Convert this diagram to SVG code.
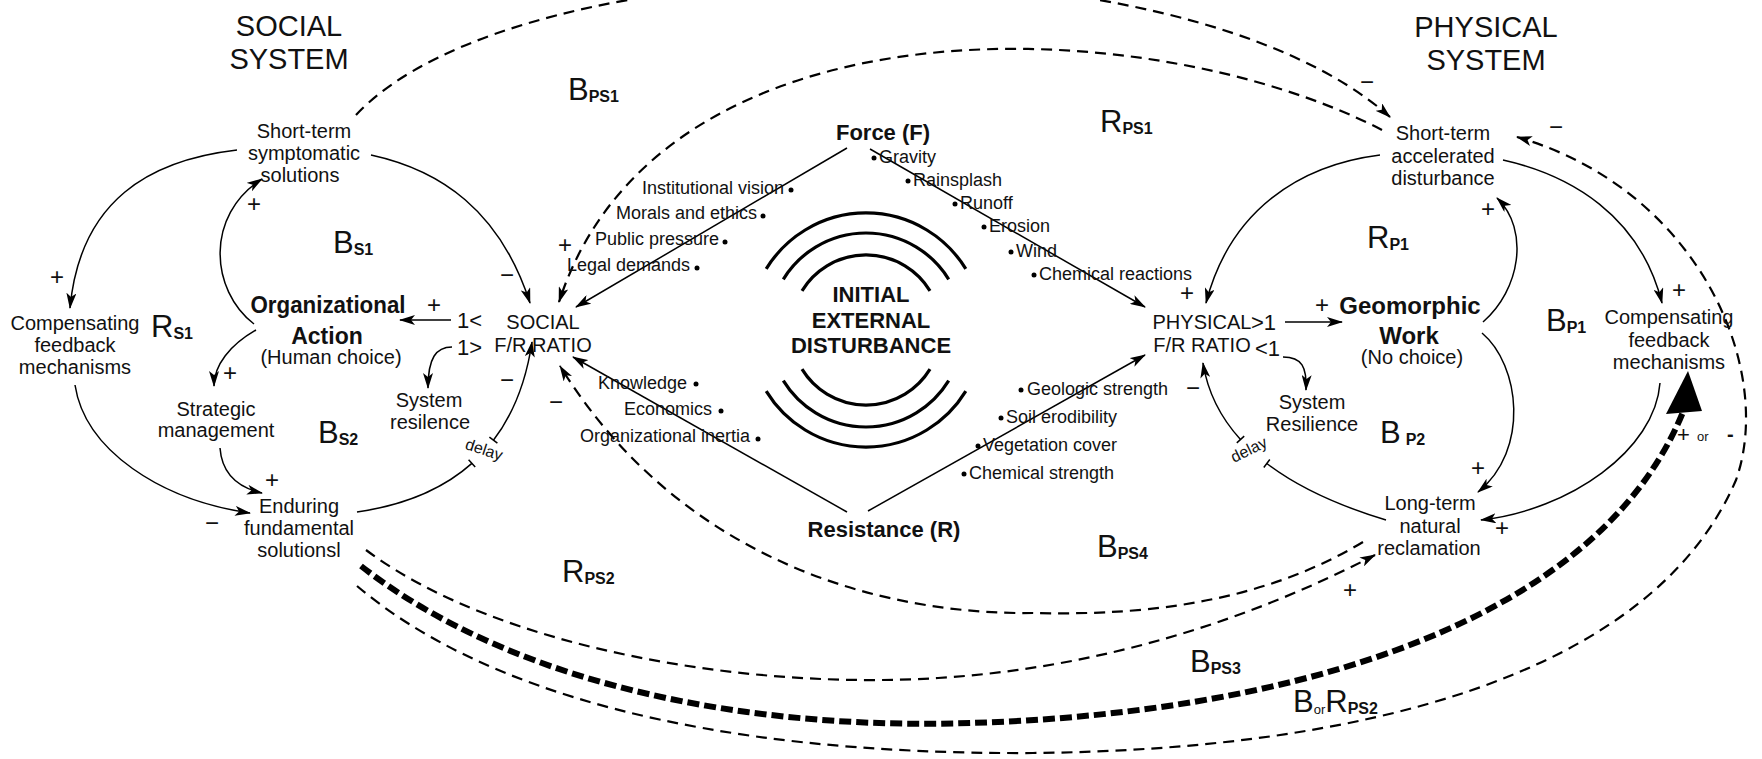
<svg xmlns="http://www.w3.org/2000/svg" width="1762" height="759" viewBox="0 0 1762 759">
<style>
text{font-family:"Liberation Sans",Arial,sans-serif;fill:#111}
.t{font-size:20px;text-anchor:middle}
.h{font-size:29px;text-anchor:middle}
.bd{font-weight:bold;font-size:23px;text-anchor:middle}
.c{font-weight:bold;font-size:22px;text-anchor:middle}
.l{font-size:18px}
.e{text-anchor:end}
.r{font-size:22px}
.loop{font-size:31px}
.sub{font-size:16px;font-weight:bold}
.or{font-size:13px}
.sg{font-size:24px;text-anchor:middle}
.dly{font-size:16px;text-anchor:middle}
.ln{fill:none;stroke:#000;stroke-width:1.5}
.dl{fill:none;stroke:#000;stroke-width:2.2;stroke-dasharray:11 7}
.tk{fill:none;stroke:#000;stroke-width:6;stroke-dasharray:12 5}
.ring{fill:none;stroke:#000;stroke-width:3.2}
.dot{fill:#000}
</style>
<defs>
<marker id="ah" viewBox="0 0 16 10" markerWidth="16" markerHeight="10" refX="15" refY="5" orient="auto" markerUnits="userSpaceOnUse">
<path d="M0,0 L16,5 L0,10 L4,5 z" fill="#000"/>
</marker>
</defs>
<rect width="1762" height="759" fill="#fff"/>

<g id="titles">
<text class="h" x="289" y="36">SOCIAL</text>
<text class="h" x="289" y="69">SYSTEM</text>
<text class="h" x="1486" y="37">PHYSICAL</text>
<text class="h" x="1486" y="70">SYSTEM</text>
</g>

<g id="connectors">
<!-- social solid -->
<path class="ln" d="M237,150 C150,160 80,200 70,308" marker-end="url(#ah)"/>
<path class="ln" d="M371,155 C440,170 500,210 530,303" marker-end="url(#ah)"/>
<path class="ln" d="M254,324 C210,290 205,215 262,179" marker-end="url(#ah)"/>
<path class="ln" d="M256,330 C230,345 214,365 214,386" marker-end="url(#ah)"/>
<path class="ln" d="M451,320 L400,320" marker-end="url(#ah)"/>
<path class="ln" d="M452,347 C436,347 428,358 428,388" marker-end="url(#ah)"/>
<path class="ln" d="M220,448 C222,475 240,488 262,493" marker-end="url(#ah)"/>
<path class="ln" d="M75,385 C85,450 160,500 250,513" marker-end="url(#ah)"/>
<path class="ln" d="M357,512 Q428.9,501.7 471.9,463.4"/>
<path class="ln" d="M493.4,440.2 Q523.2,401.2 532,342" marker-end="url(#ah)"/>
<path class="ln" d="M468.6,459.7 L475.2,467.1 M489.4,437.2 L497.4,443.2"/>
<!-- physical solid -->
<path class="ln" d="M1380,155 C1300,165 1230,210 1206,303" marker-end="url(#ah)"/>
<path class="ln" d="M1503,160 C1570,175 1640,215 1662,303" marker-end="url(#ah)"/>
<path class="ln" d="M1483,322 C1520,290 1530,230 1497,198" marker-end="url(#ah)"/>
<path class="ln" d="M1482,333 C1520,365 1530,450 1478,492" marker-end="url(#ah)"/>
<path class="ln" d="M1285,322 L1342,322" marker-end="url(#ah)"/>
<path class="ln" d="M1283,357 C1302,357 1307,367 1306,390" marker-end="url(#ah)"/>
<path class="ln" d="M1660,383 C1655,450 1570,510 1481,520" marker-end="url(#ah)"/>
<path class="ln" d="M1386,520 Q1311.3,497.5 1266.8,463.5"/>
<path class="ln" d="M1240.5,439.5 Q1209.8,405.8 1203,363" marker-end="url(#ah)"/>
<path class="ln" d="M1263.8,467.5 L1269.8,459.5 M1236.8,442.9 L1244.2,436.1"/>
<!-- force / resistance -->
<path class="ln" d="M847,148 L576,307" marker-end="url(#ah)"/>
<path class="ln" d="M870,149 L1145,307" marker-end="url(#ah)"/>
<path class="ln" d="M847,512 L573,357" marker-end="url(#ah)"/>
<path class="ln" d="M868,511 L1145,355" marker-end="url(#ah)"/>
<!-- dashed -->
<path class="dl" d="M356,115 C520,-60 1180,-70 1390,117" marker-end="url(#ah)"/>
<path class="dl" d="M1382,130 C1150,10 660,-10 559,302" marker-end="url(#ah)"/>
<path class="dl" d="M1363,542 C1250,610 1120,615 1033,613 C880,615 680,560 560,366" marker-end="url(#ah)"/>
<path class="dl" d="M366,550 C500,650 750,690 938,678 C1100,668 1250,620 1375,555" marker-end="url(#ah)"/>
<path class="dl" d="M357,586 C480,690 700,755 1033,753 C1350,750 1650,680 1736,480 C1775,370 1700,190 1517,137" marker-end="url(#ah)"/>
<path class="tk" d="M361,566 C520,690 760,730 970,723 C1250,715 1590,640 1683,412"/>
<polygon points="1688,371 1666,414 1702,411" fill="#000"/>
</g>

<g id="rings">
<path class="ring" d="M766.2,268.9 A117,117 0 0 1 965.8,268.9"/>
<path class="ring" d="M783.3,279.3 A97,97 0 0 1 948.7,279.3"/>
<path class="ring" d="M802,290.8 A75,75 0 0 1 930,290.8"/>
<path class="ring" d="M766.2,391.1 A117,117 0 0 0 965.8,391.1"/>
<path class="ring" d="M783.3,380.7 A97,97 0 0 0 948.7,380.7"/>
<path class="ring" d="M802,369.2 A75,75 0 0 0 930,369.2"/>
</g>

<g id="node-initial-disturbance">
<text class="c" x="871" y="302">INITIAL</text>
<text class="c" x="871" y="328">EXTERNAL</text>
<text class="c" x="871" y="353">DISTURBANCE</text>
</g>

<g id="node-force">
<text class="c" x="883" y="140">Force (F)</text>
<text class="l" x="879" y="163">Gravity</text><circle class="dot" cx="874" cy="158" r="2.5"/>
<text class="l" x="913" y="186">Rainsplash</text><circle class="dot" cx="908" cy="181" r="2.5"/>
<text class="l" x="960" y="209">Runoff</text><circle class="dot" cx="955" cy="204" r="2.5"/>
<text class="l" x="989" y="232">Erosion</text><circle class="dot" cx="984" cy="227" r="2.5"/>
<text class="l" x="1016" y="257">Wind</text><circle class="dot" cx="1011" cy="252" r="2.5"/>
<text class="l" x="1039" y="280">Chemical reactions</text><circle class="dot" cx="1034" cy="275" r="2.5"/>
<text class="l e" x="784" y="194">Institutional vision</text><circle class="dot" cx="791" cy="190" r="2.5"/>
<text class="l e" x="757" y="219">Morals and ethics</text><circle class="dot" cx="763" cy="216" r="2.5"/>
<text class="l e" x="719" y="245">Public pressure</text><circle class="dot" cx="725" cy="242" r="2.5"/>
<text class="l e" x="690" y="271">Legal demands</text><circle class="dot" cx="697" cy="268" r="2.5"/>
</g>

<g id="node-resistance">
<text class="c" x="884" y="537">Resistance (R)</text>
<text class="l e" x="687" y="389">Knowledge</text><circle class="dot" cx="696" cy="384" r="2.5"/>
<text class="l e" x="712" y="415">Economics</text><circle class="dot" cx="721" cy="411" r="2.5"/>
<text class="l e" x="750" y="442">Organizational inertia</text><circle class="dot" cx="758" cy="439" r="2.5"/>
<text class="l" x="1027" y="395">Geologic strength</text><circle class="dot" cx="1021" cy="390" r="2.5"/>
<text class="l" x="1006" y="423">Soil erodibility</text><circle class="dot" cx="1001" cy="418" r="2.5"/>
<text class="l" x="983" y="451">Vegetation cover</text><circle class="dot" cx="978" cy="446" r="2.5"/>
<text class="l" x="969" y="479">Chemical strength</text><circle class="dot" cx="964" cy="474" r="2.5"/>
</g>

<g id="node-short-term-symptomatic">
<text class="t" x="304" y="138">Short-term</text>
<text class="t" x="304" y="160">symptomatic</text>
<text class="t" x="300" y="182">solutions</text>
</g>
<g id="node-compensating-social">
<text class="t" x="75" y="330">Compensating</text>
<text class="t" x="75" y="352">feedback</text>
<text class="t" x="75" y="374">mechanisms</text>
</g>
<g id="node-organizational-action">
<text class="bd" x="328" y="313" textLength="155" lengthAdjust="spacingAndGlyphs">Organizational</text>
<text class="bd" x="327" y="344">Action</text>
<text class="t" x="331" y="364">(Human choice)</text>
</g>
<g id="node-strategic">
<text class="t" x="216" y="416">Strategic</text>
<text class="t" x="216" y="437">management</text>
</g>
<g id="node-enduring">
<text class="t" x="299" y="513">Enduring</text>
<text class="t" x="299" y="535">fundamental</text>
<text class="t" x="299" y="557">solutionsl</text>
</g>
<g id="node-system-resilence">
<text class="t" x="429" y="407">System</text>
<text class="t" x="430" y="429">resilence</text>
</g>
<g id="node-social-fr">
<text class="t" x="543" y="329">SOCIAL</text>
<text class="t" x="543" y="352">F/R RATIO</text>
<text class="r" x="457" y="328">1&lt;</text>
<text class="r" x="457" y="355">1&gt;</text>
</g>

<g id="node-short-term-accelerated">
<text class="t" x="1443" y="140">Short-term</text>
<text class="t" x="1443" y="163">accelerated</text>
<text class="t" x="1443" y="185">disturbance</text>
</g>
<g id="node-physical-fr">
<text class="t" x="1202" y="329">PHYSICAL</text>
<text class="t" x="1202" y="352">F/R RATIO</text>
<text class="r" x="1251" y="330">&gt;1</text>
<text class="r" x="1255" y="356">&lt;1</text>
</g>
<g id="node-geomorphic-work">
<text class="bd" x="1410" y="314" style="font-size:24px">Geomorphic</text>
<text class="bd" x="1409" y="344" style="font-size:24px">Work</text>
<text class="t" x="1412" y="364">(No choice)</text>
</g>
<g id="node-system-resilience">
<text class="t" x="1312" y="409">System</text>
<text class="t" x="1312" y="431">Resilience</text>
</g>
<g id="node-compensating-physical">
<text class="t" x="1669" y="324">Compensating</text>
<text class="t" x="1669" y="347">feedback</text>
<text class="t" x="1669" y="369">mechanisms</text>
</g>
<g id="node-long-term">
<text class="t" x="1430" y="510">Long-term</text>
<text class="t" x="1430" y="533">natural</text>
<text class="t" x="1429" y="555">reclamation</text>
</g>

<g id="delays">
<text class="dly" x="484" y="455" transform="rotate(18 484 450)">delay</text>
<text class="dly" x="1249" y="455" transform="rotate(-26 1249 450)">delay</text>
</g>

<g id="loop-labels">
<text class="loop" x="568" y="100">B<tspan class="sub" dy="2">PS1</tspan></text>
<text class="loop" x="1100" y="132">R<tspan class="sub" dy="2">PS1</tspan></text>
<text class="loop" x="333" y="253">B<tspan class="sub" dy="2">S1</tspan></text>
<text class="loop" x="151" y="337">R<tspan class="sub" dy="2">S1</tspan></text>
<text class="loop" x="318" y="443">B<tspan class="sub" dy="2">S2</tspan></text>
<text class="loop" x="562" y="582">R<tspan class="sub" dy="2">PS2</tspan></text>
<text class="loop" x="1097" y="557">B<tspan class="sub" dy="2">PS4</tspan></text>
<text class="loop" x="1190" y="672">B<tspan class="sub" dy="2">PS3</tspan></text>
<text class="loop" x="1293" y="712">B<tspan class="or" dy="2">or</tspan><tspan dy="-2">R</tspan><tspan class="sub" dy="2">PS2</tspan></text>
<text class="loop" x="1367" y="248">R<tspan class="sub" dy="2">P1</tspan></text>
<text class="loop" x="1546" y="331">B<tspan class="sub" dy="2">P1</tspan></text>
<text class="loop" x="1380" y="443">B<tspan class="sub" dx="5" dy="2">P2</tspan></text>
</g>

<g id="polarities">
<text class="sg" x="57" y="285">+</text>
<text class="sg" x="254" y="212">+</text>
<text class="sg" x="230" y="381">+</text>
<text class="sg" x="272" y="488">+</text>
<text class="sg" x="434" y="313">+</text>
<text class="sg" x="565" y="253">+</text>
<text class="sg" x="1187" y="301">+</text>
<text class="sg" x="1322" y="313">+</text>
<text class="sg" x="1488" y="217">+</text>
<text class="sg" x="1679" y="298">+</text>
<text class="sg" x="1478" y="476">+</text>
<text class="sg" x="1502" y="536">+</text>
<text class="sg" x="1350" y="598">+</text>
<text class="sg" x="212" y="531">−</text>
<text class="sg" x="507" y="283">−</text>
<text class="sg" x="507" y="388">−</text>
<text class="sg" x="556" y="410">−</text>
<text class="sg" x="1367" y="90">−</text>
<text class="sg" x="1556" y="135">−</text>
<text class="sg" x="1193" y="396">−</text>
<text x="1677" y="442" style="font-size:22px">+</text>
<text x="1697" y="441" style="font-size:13px">or</text>
<text x="1727" y="441" style="font-size:20px;font-weight:bold">-</text>
</g>
</svg>
